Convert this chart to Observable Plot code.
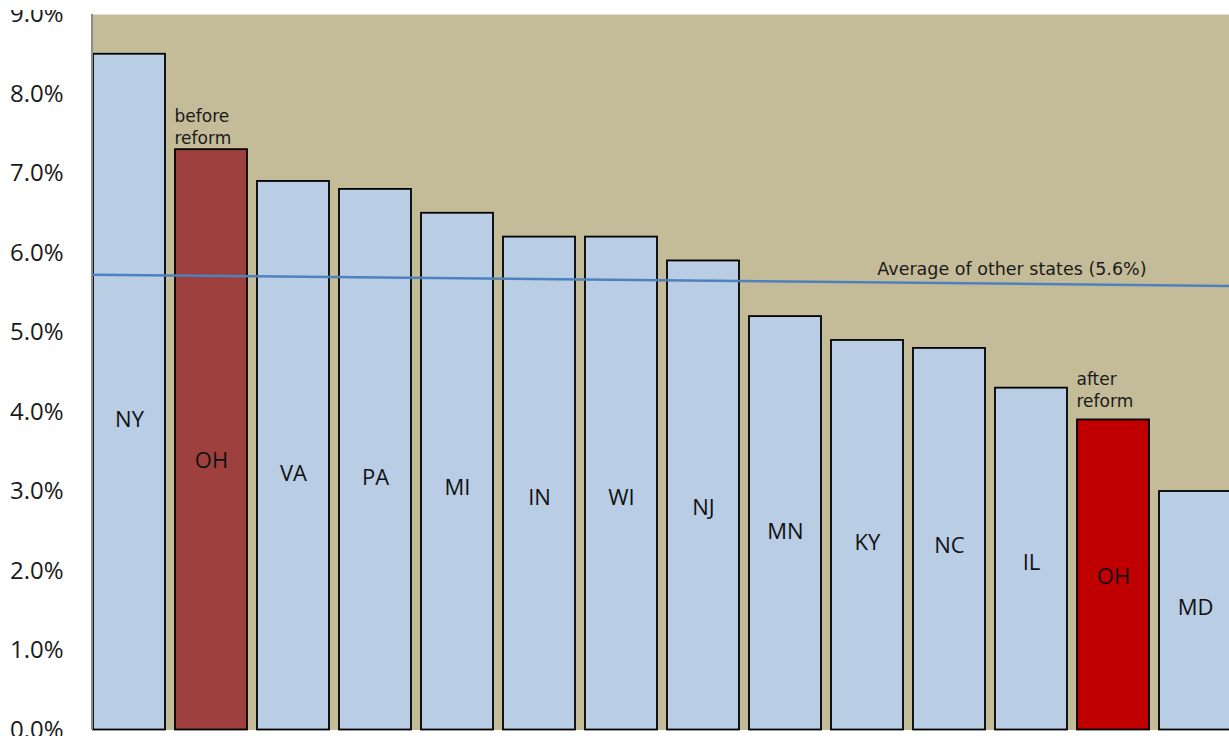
<!DOCTYPE html>
<html><head><meta charset="utf-8">
<script src="https://cdn.jsdelivr.net/npm/d3@7"></script>
<script src="https://cdn.jsdelivr.net/npm/@observablehq/plot@0.6"></script>
<style>
html,body{margin:0;padding:0;background:#fff;overflow:hidden}
#chart svg{display:block;clip-path:inset(10px 0 0 0);}
</style></head><body><div id="chart"></div>
<script>
// ---- data ----
const keys = ["NY","OH-before","VA","PA","MI","IN","WI","NJ","MN","KY","NC","IL","OH-after","MD"];
const stateLabels = ["NY","OH","VA","PA","MI","IN","WI","NJ","MN","KY","NC","IL","OH","MD"];
const values = [8.5,7.3,6.9,6.8,6.5,6.2,6.2,5.9,5.2,4.9,4.8,4.3,3.9,3.0];
const groups = ["other","before","other","other","other","other","other","other","other","other","other","other","after","other"];
const yTicks = [0,1,2,3,4,5,6,7,8,9];
const avgText = "Average of other states (5.6%)";
const avgEnds = [5.72, 5.58];   // drawn line, left end / right end
const noteBefore = {key: "OH-before", value: 7.3, text: "before\nreform"};
const noteAfter = {key: "OH-after", value: 3.9, text: "after\nreform"};

const data = keys.map((k, i) => ({key: k, label: stateLabels[i], value: values[i], group: groups[i]}));
const labelPos = d => 0.43 * d.value + 0.25;

function leftAxisLine(index, scales, values, dim) {
  const g = d3.create("svg:g");
  g.append("line")
    .attr("x1", dim.marginLeft).attr("x2", dim.marginLeft)
    .attr("y1", dim.marginTop).attr("y2", dim.height - dim.marginBottom)
    .attr("stroke", "#8c8c8c").attr("stroke-width", 2);
  return g.node();
}
function avgLine(index, scales, values, dim) {
  const g = d3.create("svg:g");
  g.append("line")
    .attr("x1", dim.marginLeft).attr("x2", dim.width - dim.marginRight)
    .attr("y1", scales.y(avgEnds[0])).attr("y2", scales.y(avgEnds[1]))
    .attr("stroke", "#4F81BD").attr("stroke-width", 2.5);
  return g.node();
}

const noteStyle = {x: "key", y: "value", text: "text", textAnchor: "start", lineAnchor: "bottom", dx: -37, lineHeight: 1.3, fontSize: 17, fontFamily: "'DejaVu Sans', sans-serif", fill: "#1a1a1a"};

const plot = Plot.plot({
  width: 1229, height: 736,
  marginTop: 14, marginBottom: 6.5, marginLeft: 92, marginRight: 0,
  style: {fontFamily: "'Open Sans', sans-serif", background: "white", color: "#1a1a1a"},
  x: {domain: keys, range: [93, 1232], paddingInner: 0.122, paddingOuter: 0, align: 0, axis: null},
  y: {domain: [0, 9], axis: null},
  color: {domain: ["other", "before", "after"], range: ["#B9CDE5", "#9E413E", "#C00000"]},
  marks: [
    Plot.frame({fill: "#C4BC98"}),
    Plot.axisY({ticks: yTicks, tickFormat: d => d.toFixed(1) + "%", tickSize: 0, tickPadding: 29, fontSize: 24, label: null, fill: "#1a1a1a"}),
    Plot.barY(data, {x: "key", y: "value", fill: "group", stroke: "#000", strokeWidth: 1.8}),
    leftAxisLine,
    avgLine,
    Plot.text(data, {x: "key", y: labelPos, text: "label", fontSize: 22, fill: "#111"}),
    Plot.text([noteBefore], {...noteStyle, dy: -6}),
    Plot.text([noteAfter], {...noteStyle, dy: -13}),
    Plot.text([avgText], {x: () => "OH-after", y: () => 5.6, text: d => d, textAnchor: "end", dx: 33, dy: -15, fontSize: 17.5, fontFamily: "'DejaVu Sans', sans-serif", fill: "#1a1a1a"})
  ]
});
document.getElementById("chart").appendChild(plot);
</script>
</body></html>
